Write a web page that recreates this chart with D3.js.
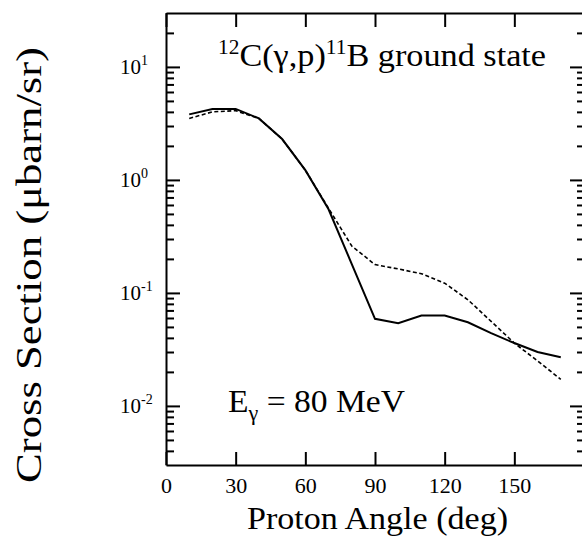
<!DOCTYPE html>
<html>
<head>
<meta charset="utf-8">
<script src="https://cdn.jsdelivr.net/npm/d3@7"></script>
<style>
  html, body { margin: 0; padding: 0; background: #fff; }
  svg text { font-family: "Liberation Serif", "Times New Roman", serif; fill: #000; }
</style>
</head>
<body>
<svg id="chart" width="582" height="538"></svg>
<script>
// ---- data ----
const angles      = [10, 20, 30, 40, 50, 60, 70, 80, 90, 100, 110, 120, 130, 140, 150, 160, 170];
const solidValues = [3.8, 4.25, 4.25, 3.5, 2.3, 1.22, 0.55, 0.18, 0.059, 0.054, 0.063, 0.063, 0.055, 0.044, 0.036, 0.030, 0.027];
const dashValues  = [3.5, 4.0, 4.1, 3.5, 2.3, 1.22, 0.56, 0.26, 0.178, 0.163, 0.148, 0.122, 0.087, 0.056, 0.036, 0.025, 0.0172];
const xTickValues = [0, 30, 60, 90, 120, 150];
const yMajorTicks = [0.01, 0.1, 1, 10];
const yMajorExps  = ["-2", "-1", "0", "1"];
const xDomain = [0, 180];
const yDomain = [0.003, 30];

const svg = d3.select("#chart");
const mLeft = 166, mRight = 584, mTop = 13, mBottom = 465;

const x = d3.scaleLinear().domain(xDomain).range([mLeft, mRight]);
const y = d3.scaleLog().domain(yDomain).range([mBottom, mTop]);

// minor ticks for log axis
const yMinor = [];
for (let e = -3; e <= 1; e++) {
  for (let m = 2; m <= 9; m++) {
    const v = m * Math.pow(10, e);
    if (v > yDomain[0] * 1.001 && v < yDomain[1] * 0.999) yMinor.push(v);
  }
}

function styleAxis(g) {
  g.select(".domain").attr("stroke", "#000").attr("stroke-width", 2);
  g.selectAll(".tick line").attr("stroke", "#000").attr("stroke-width", 2);
}

// bottom axis
const gB = svg.append("g").attr("transform", `translate(0,${mBottom})`)
  .call(d3.axisBottom(x).tickValues(xTickValues).tickSizeInner(-13).tickSizeOuter(0).tickPadding(12).tickFormat(d3.format("d")));
styleAxis(gB);
gB.selectAll("text").style("font-size", "22px").attr("font-family", "Liberation Serif");

// top axis
const gT = svg.append("g").attr("transform", `translate(0,${mTop})`)
  .call(d3.axisTop(x).tickValues(xTickValues.concat([180])).tickSizeInner(-14).tickSizeOuter(0).tickFormat(""));
styleAxis(gT);

// left axis major + minor
const gL = svg.append("g").attr("transform", `translate(${mLeft},0)`)
  .call(d3.axisLeft(y).tickValues(yMajorTicks).tickSizeInner(-14).tickSizeOuter(0).tickFormat(""));
styleAxis(gL);
const gLm = svg.append("g").attr("transform", `translate(${mLeft},0)`)
  .call(d3.axisLeft(y).tickValues(yMinor).tickSizeInner(-8).tickSizeOuter(0).tickFormat(""));
styleAxis(gLm);
gLm.select(".domain").remove();

// right axis major + minor
const gR = svg.append("g").attr("transform", `translate(${mRight},0)`)
  .call(d3.axisRight(y).tickValues(yMajorTicks).tickSizeInner(-14).tickSizeOuter(0).tickFormat(""));
styleAxis(gR);
const gRm = svg.append("g").attr("transform", `translate(${mRight},0)`)
  .call(d3.axisRight(y).tickValues(yMinor).tickSizeInner(-7).tickSizeOuter(0).tickFormat(""));
styleAxis(gRm);
gRm.select(".domain").remove();

// y tick labels 10^n
yMajorTicks.forEach((v, i) => {
  const t = svg.append("text")
    .attr("x", 120).attr("y", y(v) + 7)
    .style("font-size", "21px");
  t.append("tspan").text("10");
  t.append("tspan").attr("dy", -9).style("font-size", "14px").text(yMajorExps[i]);
});

// curves
const line = d3.line().x(d => x(d[0])).y(d => y(d[1]));
svg.append("path")
  .datum(angles.map((a, i) => [a, dashValues[i]]))
  .attr("d", line).attr("fill", "none").attr("stroke", "#000")
  .attr("stroke-width", 1.6).attr("stroke-dasharray", "4,2.5");
svg.append("path")
  .datum(angles.map((a, i) => [a, solidValues[i]]))
  .attr("d", line).attr("fill", "none").attr("stroke", "#000")
  .attr("stroke-width", 2);

// title
const title = svg.append("text").attr("transform", "translate(218,66) scale(1.07,1)").style("font-size", "32px");
title.append("tspan").attr("dy", -12).style("font-size", "20px").text("12");
title.append("tspan").attr("dy", 12).text("C(γ,p)");
title.append("tspan").attr("dy", -12).style("font-size", "20px").text("11");
title.append("tspan").attr("dy", 12).text("B ground state");

// energy label
const en = svg.append("text").attr("transform", "translate(228,412) scale(1.05,1)").style("font-size", "32px");
en.append("tspan").text("E");
en.append("tspan").attr("dy", 8).style("font-size", "21px").text("γ");
en.append("tspan").attr("dy", -8).text(" = 80 MeV");

// axis titles
svg.append("text").attr("x", 247).attr("y", 529)
  .attr("textLength", 261).attr("lengthAdjust", "spacingAndGlyphs")
  .style("font-size", "32px").text("Proton Angle (deg)");
svg.append("text").attr("transform", "translate(41,483) rotate(-90)")
  .attr("textLength", 436).attr("lengthAdjust", "spacingAndGlyphs")
  .style("font-size", "36px").text("Cross Section (μbarn/sr)");
</script>
</body>
</html>
